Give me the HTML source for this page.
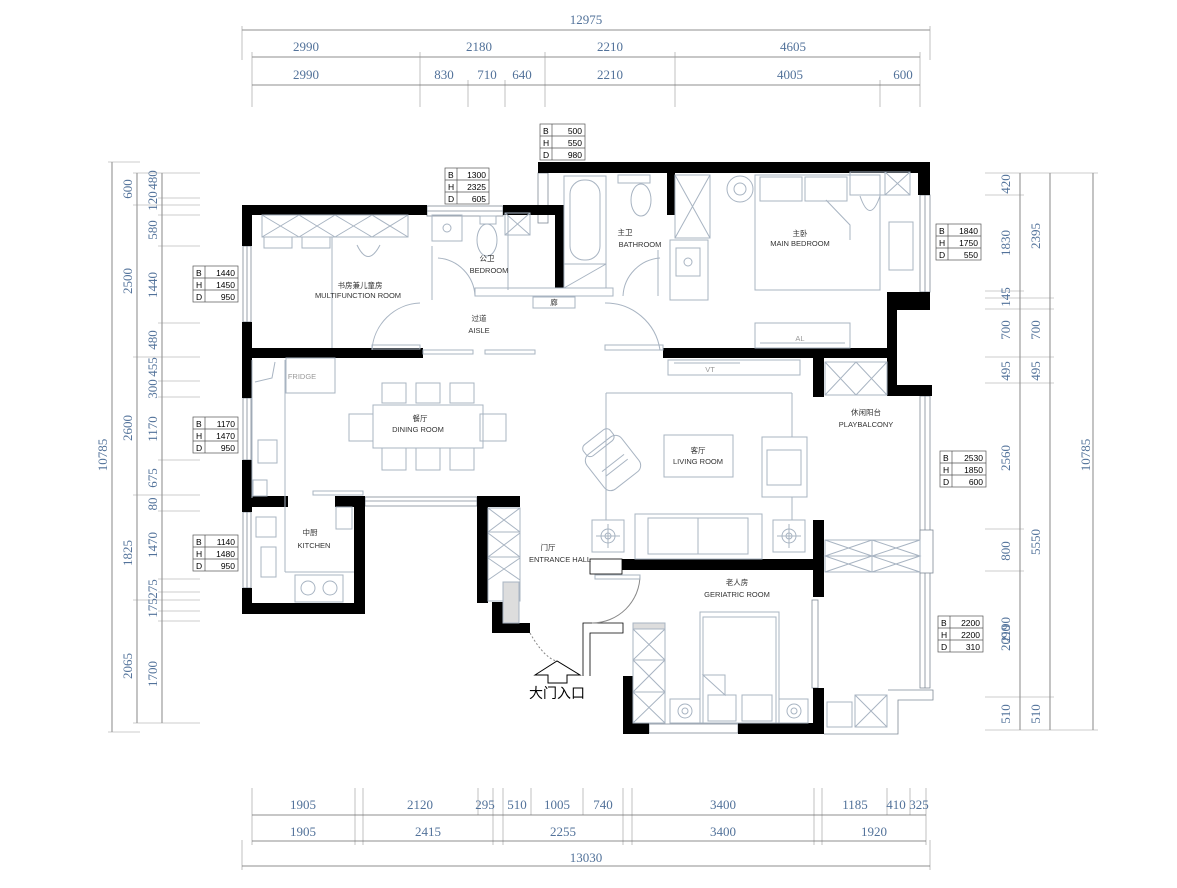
<!DOCTYPE html>
<html><head><meta charset="utf-8"><style>
html,body{margin:0;padding:0;background:#fff;}
svg{display:block;}
.d{font-family:"Liberation Serif",serif;font-size:13px;fill:#52729a;text-anchor:middle;}
.dl{stroke:#6a6a6a;stroke-width:0.8;fill:none;}
.el{stroke:#999;stroke-width:0.6;fill:none;}
.w{fill:#000;}
.f{fill:none;stroke:#a8b4c2;stroke-width:1;}
.fd{fill:none;stroke:#7f8a96;stroke-width:0.8;}
.t{font-family:"Liberation Sans","Noto Sans CJK SC",sans-serif;font-size:7.5px;fill:#333;text-anchor:middle;}
.tb{font-family:"Liberation Sans",sans-serif;font-size:8.5px;fill:#000;}
.bx{fill:#fff;stroke:#555;stroke-width:0.7;}
</style></head><body>
<svg width="1177" height="888" viewBox="0 0 1177 888" xmlns="http://www.w3.org/2000/svg">
<!-- TOP DIMENSIONS -->
<text class="d" x="586" y="24">12975</text>
<line class="dl" x1="242" y1="30" x2="930" y2="30"/>
<line class="el" x1="242" y1="26" x2="242" y2="60"/><line class="el" x1="930" y1="26" x2="930" y2="60"/>
<line class="dl" x1="252" y1="57" x2="920" y2="57"/>
<g class="el"><line x1="252" y1="52" x2="252" y2="107"/><line x1="420" y1="52" x2="420" y2="107"/><line x1="545" y1="52" x2="545" y2="107"/><line x1="675" y1="52" x2="675" y2="107"/><line x1="920" y1="52" x2="920" y2="107"/><line x1="468" y1="80" x2="468" y2="107"/><line x1="505" y1="80" x2="505" y2="107"/><line x1="880" y1="80" x2="880" y2="107"/></g>
<text class="d" x="306" y="51">2990</text><text class="d" x="479" y="51">2180</text><text class="d" x="610" y="51">2210</text><text class="d" x="793" y="51">4605</text>
<line class="dl" x1="252" y1="85" x2="920" y2="85"/>
<text class="d" x="306" y="79">2990</text><text class="d" x="444" y="79">830</text><text class="d" x="487" y="79">710</text><text class="d" x="522" y="79">640</text><text class="d" x="610" y="79">2210</text><text class="d" x="790" y="79">4005</text><text class="d" x="903" y="79">600</text>

<!-- BOTTOM DIMENSIONS -->
<g class="el"><line x1="252" y1="788" x2="252" y2="845"/><line x1="355" y1="788" x2="355" y2="845"/><line x1="363" y1="788" x2="363" y2="845"/><line x1="478" y1="788" x2="478" y2="815"/><line x1="493" y1="788" x2="493" y2="845"/><line x1="503" y1="788" x2="503" y2="845"/><line x1="531" y1="788" x2="531" y2="815"/><line x1="583" y1="788" x2="583" y2="815"/><line x1="623" y1="788" x2="623" y2="845"/><line x1="632" y1="788" x2="632" y2="845"/><line x1="814" y1="788" x2="814" y2="845"/><line x1="822" y1="788" x2="822" y2="845"/><line x1="887" y1="788" x2="887" y2="815"/><line x1="910" y1="788" x2="910" y2="815"/><line x1="926" y1="788" x2="926" y2="845"/><line x1="242" y1="840" x2="242" y2="870"/><line x1="930" y1="840" x2="930" y2="870"/></g>
<line class="dl" x1="252" y1="815" x2="926" y2="815"/>
<text class="d" x="303" y="809">1905</text><text class="d" x="420" y="809">2120</text><text class="d" x="485" y="809">295</text><text class="d" x="517" y="809">510</text><text class="d" x="557" y="809">1005</text><text class="d" x="603" y="809">740</text><text class="d" x="723" y="809">3400</text><text class="d" x="855" y="809">1185</text><text class="d" x="896" y="809">410</text><text class="d" x="919" y="809">325</text>
<line class="dl" x1="252" y1="841" x2="926" y2="841"/>
<text class="d" x="303" y="836">1905</text><text class="d" x="428" y="836">2415</text><text class="d" x="563" y="836">2255</text><text class="d" x="723" y="836">3400</text><text class="d" x="874" y="836">1920</text>
<line class="dl" x1="242" y1="866" x2="930" y2="866"/>
<text class="d" x="586" y="862">13030</text>

<!-- LEFT DIMENSIONS -->
<line class="dl" x1="112" y1="162" x2="112" y2="732"/>
<line class="dl" x1="137" y1="173" x2="137" y2="723"/>
<line class="dl" x1="162" y1="173" x2="162" y2="723"/>
<g class="el">
<line x1="108" y1="162" x2="140" y2="162"/><line x1="108" y1="732" x2="140" y2="732"/>
<line x1="133" y1="173" x2="200" y2="173"/><line x1="158" y1="198" x2="200" y2="198"/><line x1="133" y1="205" x2="200" y2="205"/><line x1="158" y1="215" x2="200" y2="215"/><line x1="158" y1="246" x2="200" y2="246"/><line x1="158" y1="323" x2="200" y2="323"/><line x1="133" y1="357" x2="200" y2="357"/><line x1="158" y1="381" x2="200" y2="381"/><line x1="158" y1="397" x2="200" y2="397"/><line x1="158" y1="460" x2="200" y2="460"/><line x1="133" y1="495" x2="200" y2="495"/><line x1="158" y1="511" x2="200" y2="511"/><line x1="158" y1="579" x2="200" y2="579"/><line x1="158" y1="592" x2="200" y2="592"/><line x1="133" y1="600" x2="200" y2="600"/><line x1="158" y1="611" x2="200" y2="611"/><line x1="158" y1="621" x2="200" y2="621"/><line x1="133" y1="723" x2="200" y2="723"/>
</g>
<g class="d">
<text transform="translate(107,455) rotate(-90)">10785</text>
<text transform="translate(132,189) rotate(-90)">600</text>
<text transform="translate(132,281) rotate(-90)">2500</text>
<text transform="translate(132,428) rotate(-90)">2600</text>
<text transform="translate(132,553) rotate(-90)">1825</text>
<text transform="translate(132,666) rotate(-90)">2065</text>
<text transform="translate(157,180) rotate(-90)">480</text>
<text transform="translate(157,201) rotate(-90)">120</text>
<text transform="translate(157,230) rotate(-90)">580</text>
<text transform="translate(157,285) rotate(-90)">1440</text>
<text transform="translate(157,340) rotate(-90)">480</text>
<text transform="translate(157,367) rotate(-90)">455</text>
<text transform="translate(157,389) rotate(-90)">300</text>
<text transform="translate(157,429) rotate(-90)">1170</text>
<text transform="translate(157,478) rotate(-90)">675</text>
<text transform="translate(157,504) rotate(-90)">80</text>
<text transform="translate(157,545) rotate(-90)">1470</text>
<text transform="translate(157,589) rotate(-90)">275</text>
<text transform="translate(157,608) rotate(-90)">175</text>
<text transform="translate(157,674) rotate(-90)">1700</text>
</g>

<!-- RIGHT DIMENSIONS -->
<line class="dl" x1="1020" y1="173" x2="1020" y2="730"/>
<line class="dl" x1="1050" y1="173" x2="1050" y2="730"/>
<line class="dl" x1="1093" y1="173" x2="1093" y2="730"/>
<g class="el">
<line x1="985" y1="173" x2="1098" y2="173"/><line x1="985" y1="195" x2="1024" y2="195"/><line x1="985" y1="291" x2="1024" y2="291"/><line x1="985" y1="298" x2="1054" y2="298"/><line x1="985" y1="309" x2="1054" y2="309"/><line x1="985" y1="357" x2="1054" y2="357"/><line x1="985" y1="383" x2="1054" y2="383"/><line x1="985" y1="529" x2="1024" y2="529"/><line x1="985" y1="571" x2="1024" y2="571"/><line x1="985" y1="697" x2="1054" y2="697"/><line x1="985" y1="730" x2="1098" y2="730"/>
</g>
<g class="d">
<text transform="translate(1010,184) rotate(-90)">420</text>
<text transform="translate(1010,243) rotate(-90)">1830</text>
<text transform="translate(1010,297) rotate(-90)">145</text>
<text transform="translate(1010,330) rotate(-90)">700</text>
<text transform="translate(1010,371) rotate(-90)">495</text>
<text transform="translate(1010,458) rotate(-90)">2560</text>
<text transform="translate(1010,551) rotate(-90)">800</text>
<text transform="translate(1010,630) rotate(-90)">2190</text>
<text transform="translate(1010,638) rotate(-90)">2090</text>
<text transform="translate(1010,714) rotate(-90)">510</text>
<text transform="translate(1040,236) rotate(-90)">2395</text>
<text transform="translate(1040,330) rotate(-90)">700</text>
<text transform="translate(1040,371) rotate(-90)">495</text>
<text transform="translate(1040,542) rotate(-90)">5550</text>
<text transform="translate(1040,714) rotate(-90)">510</text>
<text transform="translate(1090,455) rotate(-90)">10785</text>
</g>

<!-- WINDOWS (thin) -->
<g class="fd">
<rect x="427" y="206" width="76" height="10"/><line x1="427" y1="211" x2="503" y2="211"/>
<rect x="243" y="246" width="8" height="76"/><line x1="247" y1="246" x2="247" y2="322"/>
<rect x="243" y="398" width="8" height="62"/><line x1="247" y1="398" x2="247" y2="460"/>
<rect x="243" y="512" width="8" height="76"/><line x1="247" y1="512" x2="247" y2="588"/>
<rect x="365" y="497" width="112" height="9"/><line x1="365" y1="501" x2="477" y2="501"/>
<rect x="920" y="195" width="10" height="97"/><line x1="925" y1="195" x2="925" y2="292"/>
<rect x="920" y="396" width="10" height="292"/><line x1="925" y1="396" x2="925" y2="688"/>
<rect x="920" y="530" width="13" height="43" fill="#fff"/>
<rect x="649" y="724" width="89" height="9"/>
<rect x="812" y="600" width="6" height="88"/>
<rect x="538" y="173" width="10" height="50"/>
<polyline points="888,690 933,690 933,700 898,700 898,734 824,734"/>
<rect x="590" y="559" width="32" height="15" fill="#fff" stroke="#000"/>
<polyline points="583,676 583,623 623,623 623,633 590,633 590,676" stroke="#000"/>
</g>

<!-- WALLS -->
<g class="w">
<rect x="538" y="162" width="392" height="11"/>
<rect x="918" y="162" width="12" height="33"/>
<rect x="667" y="173" width="8" height="42"/>
<rect x="555" y="205" width="9" height="83"/>
<rect x="503" y="205" width="61" height="10"/>
<rect x="242" y="205" width="185" height="10"/>
<rect x="242" y="205" width="10" height="41"/>
<rect x="242" y="322" width="10" height="76"/>
<rect x="242" y="348" width="181" height="10"/>
<rect x="663" y="348" width="234" height="10"/>
<rect x="887" y="292" width="43" height="18"/>
<rect x="887" y="292" width="10" height="104"/>
<rect x="887" y="385" width="45" height="11"/>
<rect x="813" y="358" width="11" height="39"/>
<rect x="242" y="460" width="10" height="52"/>
<rect x="242" y="588" width="10" height="26"/>
<rect x="242" y="496" width="46" height="11"/>
<rect x="335" y="496" width="30" height="11"/>
<rect x="354" y="496" width="11" height="117"/>
<rect x="242" y="603" width="123" height="11"/>
<rect x="477" y="496" width="43" height="11"/>
<rect x="477" y="496" width="11" height="107"/>
<rect x="492" y="602" width="11" height="31"/>
<rect x="492" y="623" width="38" height="10"/>
<rect x="622" y="559" width="202" height="11"/>
<rect x="813" y="520" width="11" height="77"/>
<rect x="813" y="688" width="11" height="46"/>
<rect x="623" y="676" width="10" height="58"/>
<rect x="623" y="723" width="26" height="11"/>
<rect x="738" y="723" width="86" height="11"/>
</g>

<!-- FURNITURE -->
<g class="f">
<!-- multifunction -->
<rect x="262" y="215" width="146" height="22"/>
<path d="M262,215 L299,237 M299,215 L262,237 M299,215 L335,237 M335,215 L299,237 M335,215 L372,237 M372,215 L335,237 M372,215 L408,237 M408,215 L372,237"/>
<rect x="264" y="237" width="28" height="11"/><rect x="302" y="237" width="28" height="11"/>
<line x1="332" y1="237" x2="332" y2="348"/>
<line x1="332" y1="237" x2="408" y2="237"/>
<path d="M357,245 Q368,268 380,245"/>
<!-- public bath -->
<rect x="432" y="215" width="30" height="26"/><circle cx="447" cy="228" r="4"/>
<rect x="480" y="216" width="16" height="8"/><ellipse cx="487" cy="240" rx="10" ry="16"/>
<rect x="505" y="213" width="25" height="22"/><path d="M505,213 L530,235 M530,213 L505,235"/>
<line x1="508" y1="215" x2="508" y2="290"/>
<rect x="475" y="288" width="138" height="8"/>
<rect x="533" y="297" width="42" height="11"/>
<line x1="432" y1="246" x2="432" y2="300"/>
<!-- master bath -->
<rect x="564" y="176" width="42" height="88"/>
<rect x="570" y="180" width="30" height="80" rx="14"/>
<rect x="564" y="264" width="42" height="24"/><line x1="564" y1="288" x2="606" y2="264"/>
<rect x="618" y="175" width="32" height="8"/><ellipse cx="641" cy="200" rx="10" ry="16"/>
<rect x="670" y="240" width="38" height="60"/><rect x="676" y="248" width="24" height="28"/><circle cx="688" cy="262" r="4"/>
<line x1="658" y1="250" x2="658" y2="296"/>
<!-- master bedroom -->
<rect x="675" y="175" width="35" height="63"/><path d="M675,175 L710,238 M710,175 L675,238"/>
<circle cx="740" cy="189" r="13"/><circle cx="740" cy="189" r="6"/>
<rect x="755" y="175" width="125" height="115"/>
<rect x="760" y="177" width="42" height="24"/><rect x="805" y="177" width="42" height="24"/>
<path d="M826,200 L850,225 L850,240"/>
<rect x="850" y="172" width="35" height="23"/><rect x="885" y="172" width="25" height="23"/><path d="M885,172 L910,195 M910,172 L885,195"/>
<path d="M860,196 Q870,225 880,196"/>
<rect x="889" y="222" width="24" height="48"/>
<rect x="755" y="323" width="95" height="25"/>
<line x1="760" y1="343" x2="845" y2="343"/>
<!-- aisle doors -->
<path d="M372,350 A50,50 0 0 1 420,303" stroke-dasharray="0"/>
<path d="M605,303 A55,55 0 0 1 660,350"/>
<rect x="372" y="345" width="48" height="4"/><rect x="605" y="345" width="58" height="5"/>
<rect x="423" y="350" width="50" height="4"/><rect x="485" y="350" width="50" height="4"/>
<path d="M438,258 A40,40 0 0 1 475,296"/>
<path d="M660,258 A40,40 0 0 0 623,296"/>
<!-- dining/kitchen -->
<line x1="285" y1="360" x2="285" y2="572"/>
<rect x="286" y="358" width="49" height="35"/>
<line x1="252" y1="360" x2="252" y2="498"/>
<path d="M255,382 L272,378 L275,362"/>
<rect x="258" y="440" width="19" height="23"/>
<rect x="253" y="480" width="14" height="16"/>
<rect x="256" y="517" width="20" height="20"/>
<rect x="261" y="547" width="15" height="30"/>
<line x1="285" y1="572" x2="354" y2="572"/>
<rect x="295" y="575" width="48" height="27"/><circle cx="308" cy="588" r="7"/><circle cx="330" cy="588" r="7"/>
<rect x="313" y="491" width="50" height="4"/>
<rect x="336" y="507" width="16" height="22"/>
<rect x="373" y="405" width="110" height="43"/>
<rect x="382" y="383" width="24" height="20"/><rect x="416" y="383" width="24" height="20"/><rect x="450" y="383" width="24" height="20"/>
<rect x="382" y="448" width="24" height="22"/><rect x="416" y="448" width="24" height="22"/><rect x="450" y="448" width="24" height="22"/>
<rect x="349" y="414" width="24" height="27"/><rect x="480" y="414" width="26" height="27"/>
<!-- entrance cabinet -->
<rect x="488" y="508" width="32" height="93"/>
<path d="M488,508 L520,532 M520,508 L488,532 M488,533 L520,557 M520,533 L488,557 M488,558 L520,580 M520,558 L488,580"/>
<line x1="488" y1="532" x2="520" y2="532"/><line x1="488" y1="557" x2="520" y2="557"/>
<rect x="503" y="582" width="16" height="41" fill="#ddd"/>
<path d="M530,633 Q545,660 560,662" stroke-dasharray="2,2" stroke="#888"/>
<path d="M640,575 A48,48 0 0 1 592,623" stroke="#888"/>
<rect x="595" y="575" width="45" height="4"/>
<!-- living -->
<line x1="606" y1="393" x2="792" y2="393"/><line x1="606" y1="393" x2="606" y2="520"/><line x1="792" y1="393" x2="792" y2="437"/><line x1="792" y1="497" x2="792" y2="520"/>
<rect x="664" y="435" width="69" height="42"/>
<g transform="translate(613,463) rotate(-38)"><rect x="-22" y="-22" width="44" height="44" rx="8"/><rect x="-16" y="-32" width="34" height="14" rx="5"/><line x1="-14" y1="0" x2="14" y2="0"/><line x1="-14" y1="6" x2="14" y2="6"/></g>
<rect x="762" y="437" width="45" height="60"/><rect x="767" y="450" width="34" height="35"/><line x1="801" y1="450" x2="801" y2="485"/>
<rect x="635" y="514" width="127" height="45"/><rect x="648" y="518" width="100" height="36"/><line x1="698" y1="518" x2="698" y2="554"/>
<rect x="592" y="520" width="32" height="32"/><circle cx="608" cy="536" r="7"/><circle cx="608" cy="536" r="3"/><line x1="596" y1="536" x2="620" y2="536"/><line x1="608" y1="524" x2="608" y2="548"/>
<rect x="773" y="520" width="32" height="32"/><circle cx="789" cy="536" r="7"/><circle cx="789" cy="536" r="3"/><line x1="777" y1="536" x2="801" y2="536"/><line x1="789" y1="524" x2="789" y2="548"/>
<rect x="668" y="360" width="132" height="15"/>
<line x1="674" y1="363" x2="740" y2="363"/>
<!-- balcony -->
<rect x="825" y="362" width="62" height="33"/><path d="M825,362 L856,395 M856,362 L825,395 M856,362 L887,395 M887,362 L856,395"/>
<rect x="825" y="540" width="95" height="32"/><line x1="825" y1="556" x2="920" y2="556"/><line x1="872" y1="540" x2="872" y2="572"/>
<path d="M825,540 L872,556 L825,572 M872,540 L920,556 L872,572 M872,540 L825,556 L872,572 M920,540 L872,556 L920,572"/>
<rect x="827" y="702" width="25" height="25"/><rect x="855" y="695" width="32" height="32"/><path d="M855,695 L887,727 M887,695 L855,727"/>
<!-- geriatric -->
<rect x="633" y="623" width="32" height="100"/>
<rect x="633" y="623" width="32" height="6" fill="#ddd"/>
<line x1="633" y1="660" x2="665" y2="660"/><line x1="633" y1="692" x2="665" y2="692"/>
<path d="M633,629 L665,660 M665,629 L633,660 M633,660 L665,692 M665,660 L633,692 M633,692 L665,723 M665,692 L633,723"/>
<rect x="700" y="612" width="79" height="111"/><rect x="703" y="617" width="73" height="106"/>
<path d="M703,675 L725,675 L725,695 Z"/>
<rect x="708" y="695" width="28" height="26"/><rect x="742" y="695" width="30" height="26"/>
<rect x="670" y="699" width="30" height="24"/><circle cx="685" cy="711" r="7"/><circle cx="685" cy="711" r="3"/>
<rect x="779" y="699" width="29" height="24"/><circle cx="794" cy="711" r="7"/><circle cx="794" cy="711" r="3"/>
</g>

<!-- ARROW + ENTRANCE -->
<polygon points="535,675 557,661 580,675 567,675 567,683 548,683 548,675" fill="#fff" stroke="#000" stroke-width="1"/>
<text x="557" y="698" font-family="'Liberation Sans','Noto Sans CJK SC',sans-serif" font-size="14" text-anchor="middle" fill="#000">大门入口</text>

<!-- ROOM LABELS -->
<g class="t">
<text x="360" y="288">书房兼儿童房</text><text x="358" y="298">MULTIFUNCTION ROOM</text>
<text x="487" y="261">公卫</text><text x="489" y="273">BEDROOM</text>
<text x="625" y="235">主卫</text><text x="640" y="247">BATHROOM</text>
<text x="800" y="236">主卧</text><text x="800" y="246">MAIN BEDROOM</text>
<text x="479" y="321">过道</text><text x="479" y="333">AISLE</text>
<text x="420" y="421">餐厅</text><text x="418" y="432">DINING ROOM</text>
<text x="698" y="453">客厅</text><text x="698" y="464">LIVING ROOM</text>
<text x="866" y="415">休闲阳台</text><text x="866" y="427">PLAYBALCONY</text>
<text x="310" y="535">中厨</text><text x="314" y="548">KITCHEN</text>
<text x="548" y="550">门厅</text><text x="560" y="562">ENTRANCE HALL</text>
<text x="737" y="585">老人房</text><text x="737" y="597">GERIATRIC ROOM</text>
<text x="302" y="379" fill="#999">FRIDGE</text>
<text x="800" y="341" fill="#999">AL</text><text x="710" y="372" fill="#999">VT</text>
<text x="554" y="305">廊</text>
</g>

<!-- SPEC BOXES -->
<g>
<g transform="translate(540,124)"><rect class="bx" width="45" height="36"/><line x1="0" y1="12" x2="45" y2="12" stroke="#555" stroke-width="0.7"/><line x1="0" y1="24" x2="45" y2="24" stroke="#555" stroke-width="0.7"/><line x1="12" y1="0" x2="12" y2="36" stroke="#555" stroke-width="0.7"/><text class="tb" x="3" y="10">B</text><text class="tb" x="3" y="22">H</text><text class="tb" x="3" y="34">D</text><text class="tb" x="42" y="10" text-anchor="end">500</text><text class="tb" x="42" y="22" text-anchor="end">550</text><text class="tb" x="42" y="34" text-anchor="end">980</text></g>
<g transform="translate(445,168)"><rect class="bx" width="44" height="36"/><line x1="0" y1="12" x2="44" y2="12" stroke="#555" stroke-width="0.7"/><line x1="0" y1="24" x2="44" y2="24" stroke="#555" stroke-width="0.7"/><line x1="12" y1="0" x2="12" y2="36" stroke="#555" stroke-width="0.7"/><text class="tb" x="3" y="10">B</text><text class="tb" x="3" y="22">H</text><text class="tb" x="3" y="34">D</text><text class="tb" x="41" y="10" text-anchor="end">1300</text><text class="tb" x="41" y="22" text-anchor="end">2325</text><text class="tb" x="41" y="34" text-anchor="end">605</text></g>
<g transform="translate(193,266)"><rect class="bx" width="45" height="36"/><line x1="0" y1="12" x2="45" y2="12" stroke="#555" stroke-width="0.7"/><line x1="0" y1="24" x2="45" y2="24" stroke="#555" stroke-width="0.7"/><line x1="12" y1="0" x2="12" y2="36" stroke="#555" stroke-width="0.7"/><text class="tb" x="3" y="10">B</text><text class="tb" x="3" y="22">H</text><text class="tb" x="3" y="34">D</text><text class="tb" x="42" y="10" text-anchor="end">1440</text><text class="tb" x="42" y="22" text-anchor="end">1450</text><text class="tb" x="42" y="34" text-anchor="end">950</text></g>
<g transform="translate(193,417)"><rect class="bx" width="45" height="36"/><line x1="0" y1="12" x2="45" y2="12" stroke="#555" stroke-width="0.7"/><line x1="0" y1="24" x2="45" y2="24" stroke="#555" stroke-width="0.7"/><line x1="12" y1="0" x2="12" y2="36" stroke="#555" stroke-width="0.7"/><text class="tb" x="3" y="10">B</text><text class="tb" x="3" y="22">H</text><text class="tb" x="3" y="34">D</text><text class="tb" x="42" y="10" text-anchor="end">1170</text><text class="tb" x="42" y="22" text-anchor="end">1470</text><text class="tb" x="42" y="34" text-anchor="end">950</text></g>
<g transform="translate(193,535)"><rect class="bx" width="45" height="36"/><line x1="0" y1="12" x2="45" y2="12" stroke="#555" stroke-width="0.7"/><line x1="0" y1="24" x2="45" y2="24" stroke="#555" stroke-width="0.7"/><line x1="12" y1="0" x2="12" y2="36" stroke="#555" stroke-width="0.7"/><text class="tb" x="3" y="10">B</text><text class="tb" x="3" y="22">H</text><text class="tb" x="3" y="34">D</text><text class="tb" x="42" y="10" text-anchor="end">1140</text><text class="tb" x="42" y="22" text-anchor="end">1480</text><text class="tb" x="42" y="34" text-anchor="end">950</text></g>
<g transform="translate(936,224)"><rect class="bx" width="45" height="36"/><line x1="0" y1="12" x2="45" y2="12" stroke="#555" stroke-width="0.7"/><line x1="0" y1="24" x2="45" y2="24" stroke="#555" stroke-width="0.7"/><line x1="12" y1="0" x2="12" y2="36" stroke="#555" stroke-width="0.7"/><text class="tb" x="3" y="10">B</text><text class="tb" x="3" y="22">H</text><text class="tb" x="3" y="34">D</text><text class="tb" x="42" y="10" text-anchor="end">1840</text><text class="tb" x="42" y="22" text-anchor="end">1750</text><text class="tb" x="42" y="34" text-anchor="end">550</text></g>
<g transform="translate(940,451)"><rect class="bx" width="46" height="36"/><line x1="0" y1="12" x2="46" y2="12" stroke="#555" stroke-width="0.7"/><line x1="0" y1="24" x2="46" y2="24" stroke="#555" stroke-width="0.7"/><line x1="12" y1="0" x2="12" y2="36" stroke="#555" stroke-width="0.7"/><text class="tb" x="3" y="10">B</text><text class="tb" x="3" y="22">H</text><text class="tb" x="3" y="34">D</text><text class="tb" x="43" y="10" text-anchor="end">2530</text><text class="tb" x="43" y="22" text-anchor="end">1850</text><text class="tb" x="43" y="34" text-anchor="end">600</text></g>
<g transform="translate(938,616)"><rect class="bx" width="45" height="36"/><line x1="0" y1="12" x2="45" y2="12" stroke="#555" stroke-width="0.7"/><line x1="0" y1="24" x2="45" y2="24" stroke="#555" stroke-width="0.7"/><line x1="12" y1="0" x2="12" y2="36" stroke="#555" stroke-width="0.7"/><text class="tb" x="3" y="10">B</text><text class="tb" x="3" y="22">H</text><text class="tb" x="3" y="34">D</text><text class="tb" x="42" y="10" text-anchor="end">2200</text><text class="tb" x="42" y="22" text-anchor="end">2200</text><text class="tb" x="42" y="34" text-anchor="end">310</text></g>
</g>
</svg>
</body></html>
